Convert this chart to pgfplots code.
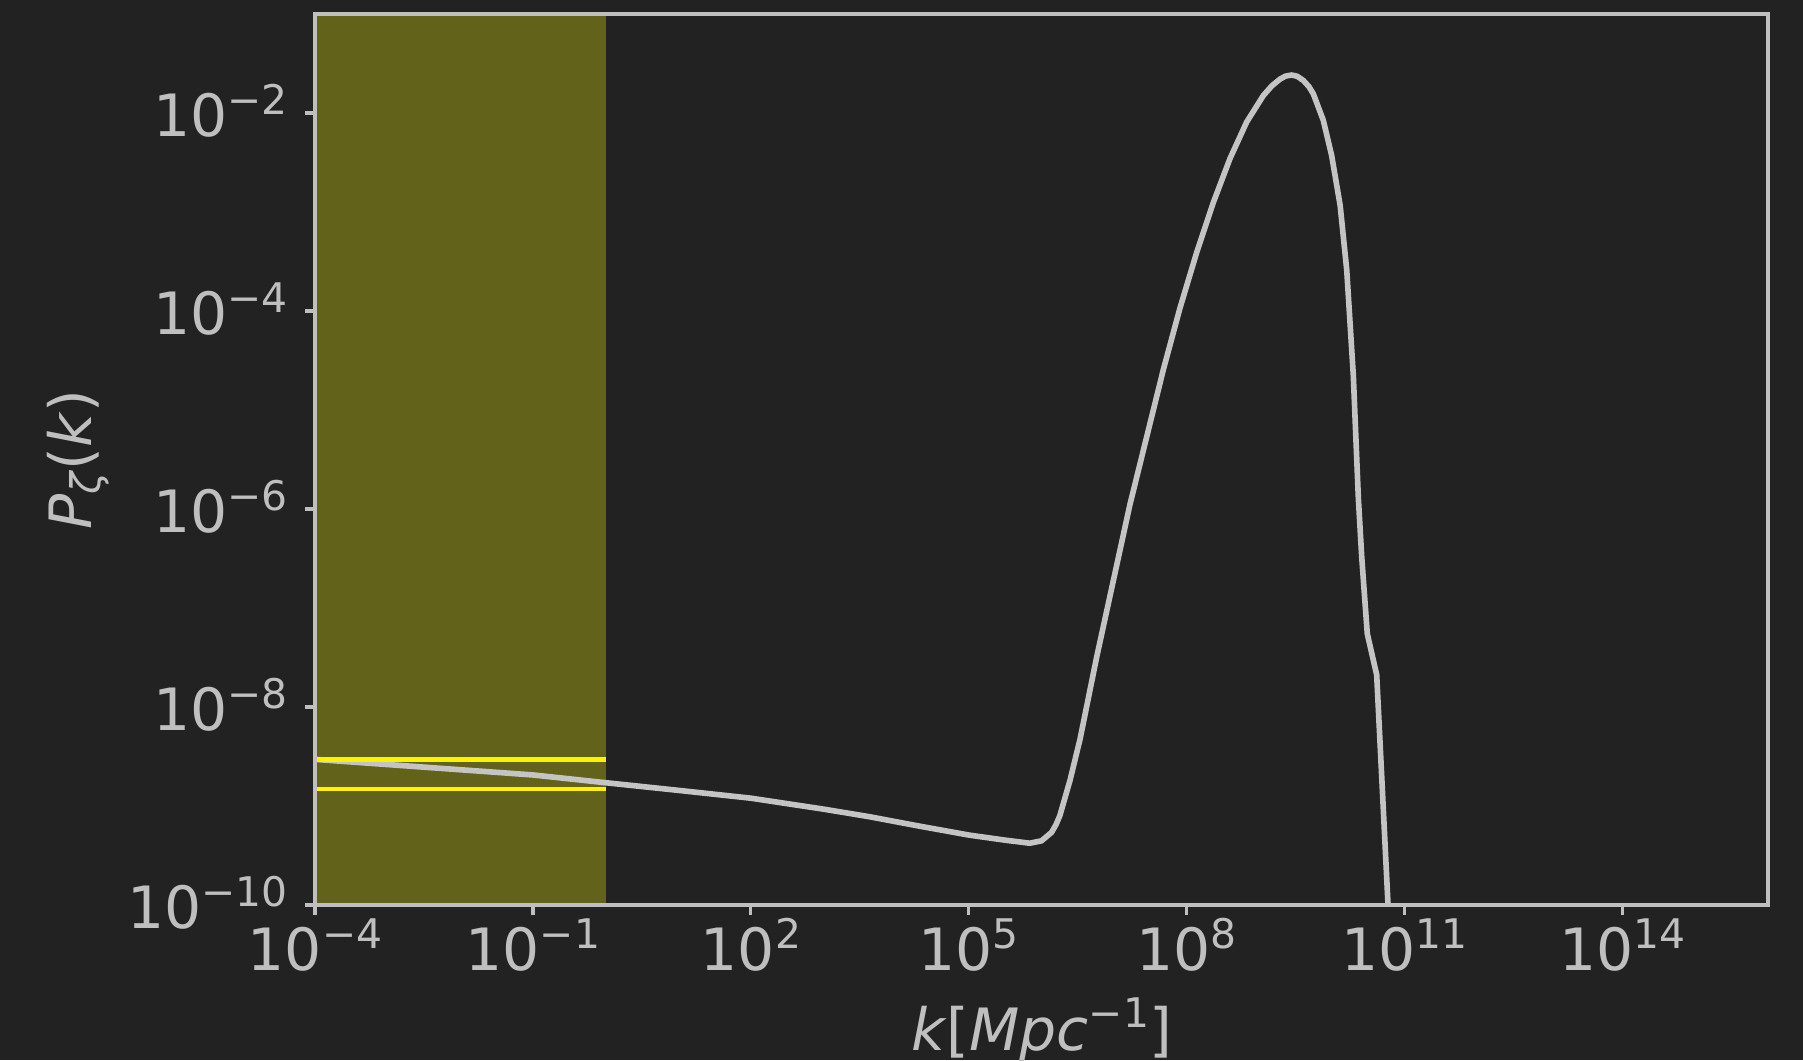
\documentclass[border=0pt]{standalone}
\usepackage{fontspec}
\setmainfont{DejaVu Sans}
\usepackage{pgfplots}
\pgfplotsset{compat=1.18}
\definecolor{bg}{HTML}{222222}
\definecolor{fg}{HTML}{BFBFBF}
\definecolor{shade}{HTML}{62621A}
\definecolor{curvecol}{HTML}{C4C4C4}
\newcommand\sups[1]{\raisebox{5.36pt}{\fontsize{9.8}{10}\selectfont #1}}
\newcommand\subs[1]{\raisebox{-2.1pt}{\fontsize{9.8}{10}\selectfont #1}}
\newcommand\tl[1]{10\sups{#1}}
\begin{document}
\begin{tikzpicture}
\path[use as bounding box, fill=bg] (-75.6pt,-37.2pt) rectangle (357.12pt,217.2pt);
\begin{axis}[
  at={(0,0)}, anchor=south west,
  scale only axis, width=348.72pt, height=213.84pt,
  xmode=log, ymode=log,
  xmin=1e-4, xmax=1e16, ymin=1e-10, ymax=1e-1,
  axis line style={fg, line width=0.75pt},
  tick style={fg, line width=0.75pt},
  major tick length=2.4pt,
  tick align=outside, tick pos=left,
  xminorticks=false, yminorticks=false,
  xtick={1e-4,1e-1,1e2,1e5,1e8,1e11,1e14},
  xticklabels={\tl{−4},\tl{−1},\tl{2},\tl{5},\tl{8},\tl{11},\tl{14}},
  ytick={1e-10,1e-8,1e-6,1e-4,1e-2},
  yticklabels={\tl{−10},\tl{−8},\tl{−6},\tl{−4},\tl{−2}},
  tick label style={font=\fontsize{14}{16}\selectfont, text=fg, inner sep=0pt},
  xticklabel style={anchor=base, yshift=-13.4pt},
  yticklabel style={anchor=base east, xshift=-3.9pt, yshift=-5.6pt},
  xlabel={\textit{k}[\textit{Mpc}\sups{−1}]},
  ylabel={\textit{P}\subs{\textit{ζ}}(\textit{k})},
  label style={font=\fontsize{14}{16}\selectfont, text=fg, inner sep=0pt},
  xlabel style={at={(axis description cs:0.5,-0.16274)}, anchor=base},
  ylabel style={at={(axis description cs:-0.16317,0.5)}, anchor=center},
  axis on top,
]
\addplot[draw=none, fill=shade] coordinates {(1e-4,1e-10) (1,1e-10) (1,1e-1) (1e-4,1e-1)} -- cycle;
\addplot[curvecol, line width=1.35pt, line join=round] coordinates {
(1e-4,2.96e-9) (3.16e-3,2.47e-9) (0.1,2.06e-9) (1,1.72e-9) (10,1.44e-9) (100,1.20e-9)
(1000,9.3e-10) (4.27e3,7.8e-10) (2e4,6.3e-10) (1e5,5.09e-10) (3.16e5,4.52e-10)
(6.9e5,4.21e-10) (1e6,4.45e-10) (1.17e6,4.90e-10) (1.38e6,5.43e-10) (1.58e6,6.46e-10)
(1.79e6,8.0e-10) (2.47e6,1.82e-9)
(3.39e6,4.72e-9) (5.74e6,3.18e-8) (9.73e6,1.88e-7) (1.65e7,1.11e-6) (2.80e7,5.32e-6)
(4.75e7,2.55e-5) (8.05e7,1.07e-4) (1.37e8,3.92e-4) (2.32e8,1.25e-3) (3.94e8,3.48e-3)
(6.67e8,8.11e-3) (1.13e9,0.0150) (1.48e9,0.0188) (1.92e9,0.0220) (2.29e9,0.0236)
(2.78e9,0.0242) (3.31e9,0.0235) (4.02e9,0.0213) (4.79e9,0.0185)
(5.52e9,0.0156) (7.57e9,8.43e-3) (9.86e9,3.72e-3) (1.29e10,1.17e-3) (1.59e10,2.60e-4)
(1.96e10,2.23e-5) (2.30e10,1.27e-6) (2.56e10,3.24e-7) (3.05e10,5.50e-8) (4.11e10,2.11e-8)
(6.17e10,5.0e-11)
};
\addplot[yellow, line width=1.1pt] coordinates {(1e-4,2.96e-9) (1,2.96e-9)};
\addplot[yellow, line width=1.1pt] coordinates {(1e-4,1.48e-9) (1,1.48e-9)};
\end{axis}
\end{tikzpicture}
\end{document}
